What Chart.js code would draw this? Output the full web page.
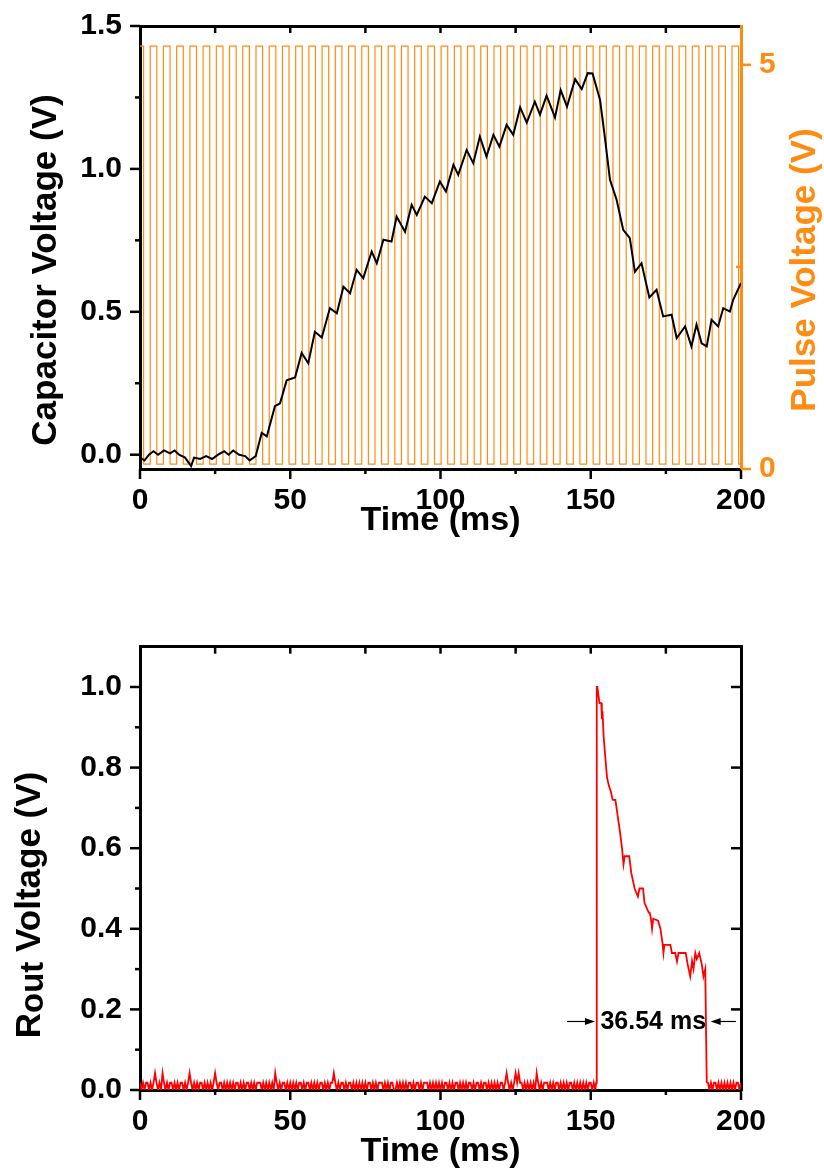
<!DOCTYPE html>
<html>
<head>
<meta charset="utf-8">
<script src="https://cdn.jsdelivr.net/npm/chart.js@4.4.1/dist/chart.umd.min.js"></script>
<style>
    html, body { margin: 0; padding: 0; background: #fff; }
    body { width: 824px; height: 1171px; position: relative; overflow: hidden; }
    canvas { position: absolute; left: 0; }
    #cap-plot { top: 0; }
    #rout-plot { top: 610px; }
</style>
</head>
<body>
<canvas id="cap-plot" width="824" height="560"></canvas>
<canvas id="rout-plot" width="824" height="561"></canvas>
<script>
// capacitor voltage (black trace)
const capTime = [0, 1.5, 3, 4.5, 6, 8, 10, 11.5, 13, 15, 17, 18, 20, 22, 24, 26, 28, 29.5, 31, 33, 35, 36.5, 38.5,
    40.5, 42.2, 44.9, 46.6, 48.8, 51.6, 53.8, 56.0, 58.2, 60.5, 63.2, 65.5, 67.7, 69.9, 72.1, 74.3, 77.1, 78.8,
    81.0, 83.7, 85.4, 88.2, 90.4, 92.1, 94.8, 97.1, 99.8, 101.8, 104.3, 105.9, 108.7, 110.9, 113.1, 115.3,
    117.6, 119.6, 122.0, 124.2, 126.5, 128.7, 131.4, 133.1, 135.3, 138.1, 140.0, 142.1, 144.8, 147.0, 149.0,
    150.6, 153.1, 154.7, 156.4, 158.6, 160.8, 163.0, 164.7, 166.9, 169.5, 171.9, 174.1, 176.9, 178.6, 181.4,
    183.5, 185.2, 186.9, 188.6, 190.2, 192.4, 194.1, 196.3, 197.4, 199.7, 200]
const capVolt = [-0.01, -0.02, 0.0, 0.012, 0.0, 0.015, 0.005, 0.015, 0.0, -0.01, -0.04, -0.01, -0.015, -0.005, -0.015, 0.0, 0.012, 0.0, 0.015, 0.0, -0.005, -0.02, -0.005,
    0.076, 0.064, 0.17, 0.18, 0.26, 0.27, 0.356, 0.32, 0.43, 0.41, 0.513, 0.495, 0.588, 0.565, 0.647, 0.618, 0.711, 0.67,
    0.752, 0.746, 0.833, 0.78, 0.874, 0.839, 0.903, 0.88, 0.956, 0.921, 1.014, 0.979, 1.066, 1.02, 1.113, 1.043,
    1.119, 1.078, 1.154, 1.119, 1.215, 1.162, 1.235, 1.19, 1.256, 1.18, 1.276, 1.218, 1.314, 1.279, 1.335,
    1.334, 1.241, 1.11, 0.962, 0.892, 0.787, 0.758, 0.64, 0.67, 0.55, 0.577, 0.484, 0.49, 0.408, 0.449,
    0.379, 0.455, 0.39, 0.379, 0.472, 0.449, 0.513, 0.501, 0.542, 0.594, 0.6]

// pulse train (orange trace): rising edges in ms, width of each high part
const pulseRise = [-1.0, 3.4, 7.8, 12.2, 16.6, 21.0, 25.4, 29.8, 34.2, 38.6, 43.0, 47.4, 51.8, 56.2, 60.6, 65.0,
    69.4, 73.8, 78.2, 82.6, 87.0, 91.4, 95.8, 100.2, 104.6, 109.0, 113.4, 117.8, 122.2, 126.6, 131.0, 135.4,
    139.8, 144.2, 148.6, 153.0, 157.4, 161.8, 166.2, 170.6, 175.0, 179.4, 183.8, 188.2, 192.6, 197.0]
const pulseWidth = 2.2
const pulseHigh = 5.23
const pulseLow = 0.06

// Rout voltage (red trace): quiet stretches as quantised noise levels, one char every 0.5 ms
const routSampleMs = 0.5
const routNoiseLevels = [0, 0.018, 0.042]
const routNoiseBefore =
    '1010110101' + '2101021010' + '1101010110' + '1012101010' + '1101010101' +
    '2101101010' + '1010110101' + '0110101011' + '1010101010' + '2101011010' +
    '1010101101' + '0110101010' + '1101010112' + '1010110101' + '1010101010' +
    '1011010101' + '1101010110' + '0101010101' + '1010110101' + '1101010101' +
    '0101101010' + '1101010101' + '1010110101' + '1010101010' + '1101210101' +
    '2121101010' + '1010210101' + '1101010110' + '1010101101' + '0101010101' + '1010'
const routNoiseAfterStart = 189.0
const routNoiseAfter = '1010110101' + '0101010101' + '101'
const routTime = [151.8, 152.0, 152.2, 152.9, 153.5, 153.7, 153.9, 154.3, 155.4, 156.0, 156.7, 157.3, 158.2,
    159.8, 160.4, 160.9, 161.3, 162.8, 163.5, 164.6, 165.7, 166.2, 167.4, 167.9, 169.3, 169.6, 170.0, 170.4,
    170.8, 172.4, 173.2, 173.9, 174.2, 174.5, 176.5, 177.0, 178.1, 178.7, 179.2, 181.6, 182.3, 183.1, 183.7,
    184.2, 184.8, 185.3, 186.1, 187.0, 187.5, 188.1, 188.6]
const routVolt = [0.018, 1.0, 1.0, 0.96, 0.96, 0.92, 0.94, 0.876, 0.776, 0.756, 0.74, 0.72, 0.72,
    0.637, 0.6, 0.56, 0.58, 0.58, 0.538, 0.5, 0.48, 0.5, 0.5, 0.464, 0.44, 0.44, 0.427, 0.4,
    0.425, 0.42, 0.4, 0.364, 0.34, 0.36, 0.36, 0.34, 0.34, 0.319, 0.34, 0.34, 0.31, 0.282, 0.32,
    0.3, 0.34, 0.325, 0.34, 0.31, 0.282, 0.3, 0.02]

// the "36.54 ms" width marker
const markLabel = '36.54 ms'
const markLabelX = 170.8
const markY = 0.17
const markLeftArrow = [142.1, 151.4]
const markRightArrow = [198.3, 189.9]

// axis ticks
const timeMajor = [0, 50, 100, 150, 200]
const timeMinor = [25, 75, 125, 175]
const capMajor = [0, 0.5, 1.0, 1.5]
const capMinor = [0.25, 0.75, 1.25]
const pulseMajor = [0, 5]
const pulseMinor = [2.5]
const routMajor = [0, 0.2, 0.4, 0.6, 0.8, 1.0]
const routMinor = [0.1, 0.3, 0.5, 0.7, 0.9]

const FONT = "'Liberation Sans', Arial, sans-serif"
const ORANGE = '#ff8c12'
const bold = (size, lh) => ({family: FONT, size: size, weight: 'bold', lineHeight: lh || 1.2})

// build point lists
const capPoints = capTime.map((t, i) => ({x: t, y: capVolt[i]}))

const pulsePoints = []
pulseRise.forEach(t0 => {
    const t1 = Math.min(t0 + pulseWidth, 200)
    pulsePoints.push({x: t0, y: pulseLow}, {x: t0, y: pulseHigh}, {x: t1, y: pulseHigh}, {x: t1, y: pulseLow})
})
pulsePoints.push({x: 200, y: pulseLow})

const routPoints = []
routNoiseBefore.split('').forEach((c, i) => routPoints.push({x: i * routSampleMs, y: routNoiseLevels[+c]}))
routTime.forEach((t, i) => routPoints.push({x: t, y: routVolt[i]}))
routNoiseAfter.split('').forEach((c, i) => routPoints.push({x: routNoiseAfterStart + i * routSampleMs, y: routNoiseLevels[+c]}))

// tick marks in/out of the frame, origin style
// (config kept in closures, chart's option proxy mangles nested arrays)
function frameTicks(marks) {
    return {
        id: 'frameTicks',
        afterDraw(chart) {
            const ctx = chart.ctx
            const {left, right, top, bottom} = chart.chartArea
            ctx.save()
            ctx.lineWidth = 2.5
            marks.forEach(m => {
                const scale = chart.scales[m.axis]
                ctx.strokeStyle = m.color || '#000'
                m.values.forEach(v => {
                    const p = scale.getPixelForValue(v)
                    ctx.beginPath()
                    if (m.side === 'bottom') { ctx.moveTo(p, bottom); ctx.lineTo(p, bottom + m.len) }
                    if (m.side === 'top') { ctx.moveTo(p, top); ctx.lineTo(p, top - m.len) }
                    if (m.side === 'left') { ctx.moveTo(left, p); ctx.lineTo(left - m.len, p) }
                    if (m.side === 'right') { ctx.moveTo(right, p); ctx.lineTo(right + m.len, p) }
                    ctx.stroke()
                })
            })
            ctx.restore()
        }
    }
}

// vertical axis titles, reading bottom to top on both sides
function sideTitles(items) {
    return {
        id: 'sideTitles',
        afterDraw(chart) {
            const ctx = chart.ctx
            items.forEach(item => {
                ctx.save()
                ctx.translate(item.x, item.y)
                ctx.rotate(-Math.PI / 2)
                ctx.fillStyle = item.color
                ctx.textBaseline = 'alphabetic'
                ctx.textAlign = 'left'
                let total = 0
                const widths = item.runs.map(r => {
                    ctx.font = `bold ${r.size}px ${FONT}`
                    const w = ctx.measureText(r.text).width
                    total += w
                    return w
                })
                let cx = -total / 2
                item.runs.forEach((r, i) => {
                    ctx.font = `bold ${r.size}px ${FONT}`
                    ctx.fillText(r.text, cx, r.shift || 0)
                    cx += widths[i]
                })
                ctx.restore()
            })
        }
    }
}

function arrow(ctx, x0, x1, y) {
    const dir = Math.sign(x1 - x0)
    ctx.beginPath()
    ctx.moveTo(x0, y)
    ctx.lineTo(x1 - dir * 8, y)
    ctx.stroke()
    ctx.beginPath()
    ctx.moveTo(x1, y)
    ctx.lineTo(x1 - dir * 10, y - 3.5)
    ctx.lineTo(x1 - dir * 10, y + 3.5)
    ctx.closePath()
    ctx.fill()
}

function widthMarker(mark) {
    return {
        id: 'widthMarker',
        afterDatasetsDraw(chart) {
            const ctx = chart.ctx
            const xs = chart.scales.x
            const ys = chart.scales.y
            const y = ys.getPixelForValue(mark.y)
            ctx.save()
            ctx.strokeStyle = '#000'
            ctx.fillStyle = '#000'
            ctx.lineWidth = 1.2
            arrow(ctx, xs.getPixelForValue(mark.left[0]), xs.getPixelForValue(mark.left[1]), y)
            arrow(ctx, xs.getPixelForValue(mark.right[0]), xs.getPixelForValue(mark.right[1]), y)
            ctx.font = `bold 25px ${FONT}`
            ctx.textAlign = 'center'
            ctx.textBaseline = 'middle'
            ctx.fillText(mark.label, xs.getPixelForValue(mark.labelX), y + 1)
            ctx.restore()
        }
    }
}

function timeAxis(height, titlePad) {
    return {
        type: 'linear', position: 'bottom', min: 0, max: 200,
        afterFit: (s) => { s.height = height },
        grid: {display: false, drawTicks: false},
        border: {display: true, color: '#000', width: 3},
        ticks: {stepSize: 50, font: bold(30), color: '#000', padding: 14, maxRotation: 0, autoSkip: false},
        title: {display: true, text: 'Time (ms)', font: bold(34, 1), color: '#000', padding: {top: 0, bottom: titlePad}}
    }
}

function topMirror(height) {
    return {
        type: 'linear', position: 'top', min: 0, max: 200, display: true,
        afterFit: (s) => { s.height = height },
        grid: {display: false, drawTicks: false},
        border: {display: true, color: '#000', width: 3},
        ticks: {display: false}
    }
}

// vertical axes: fixed width, and no extra room asked for the end labels
function valueAxis(position, width, min, max, stepSize, color, showLabels) {
    return {
        position: position, min: min, max: max, display: true,
        afterFit: (s) => { s.width = width; s.paddingTop = 0; s.paddingBottom = 0 },
        grid: {display: false, drawTicks: false},
        border: {display: true, color: color, width: 3},
        ticks: {display: showLabels, stepSize: stepSize, includeBounds: false, font: bold(30), color: color, padding: 18,
            callback: (v) => stepSize < 1 ? v.toFixed(1) : String(v)}
    }
}

// Top: capacitor voltage with the pulse train on a second axis
new Chart(document.getElementById('cap-plot'), {
    type: 'line',
    data: {
        datasets: [
            {data: capPoints, borderColor: '#000', borderWidth: 2, pointRadius: 0, yAxisID: 'y', order: 0},
            {data: pulsePoints, borderColor: ORANGE, borderWidth: 1.2, pointRadius: 0, yAxisID: 'y2', order: 1}
        ]
    },
    options: {
        responsive: false,
        animation: false,
        events: [],
        layout: {padding: 0},
        plugins: {legend: {display: false}, tooltip: {enabled: false}},
        scales: {
            x: timeAxis(91, 22),
            xTop: topMirror(26),
            y: valueAxis('left', 140, -0.05, 1.5, 0.5, '#000', true),
            y2: valueAxis('right', 83, 0, 5.48, 5, ORANGE, true)
        }
    },
    plugins: [
        frameTicks([
            {axis: 'x', side: 'bottom', values: timeMajor, len: 10},
            {axis: 'x', side: 'bottom', values: timeMinor, len: 5},
            {axis: 'x', side: 'top', values: timeMajor.slice(1, -1).concat(timeMinor), len: -7},
            {axis: 'y', side: 'left', values: capMajor, len: 10},
            {axis: 'y', side: 'left', values: capMinor, len: 5},
            {axis: 'y2', side: 'right', values: pulseMajor, len: 10, color: ORANGE},
            {axis: 'y2', side: 'right', values: pulseMinor, len: -5, color: ORANGE}
        ]),
        sideTitles([
            {x: 56, y: 270, color: '#000', runs: [{text: 'Capacitor Voltage (V)', size: 35}]},
            {x: 815, y: 270, color: ORANGE, runs: [{text: 'Pulse Voltage (V)', size: 35}]}
        ])
    ]
})

// Bottom: Rout voltage
new Chart(document.getElementById('rout-plot'), {
    type: 'line',
    data: {
        datasets: [
            {data: routPoints, borderColor: '#ff0000', borderWidth: 1.8, pointRadius: 0, yAxisID: 'y'}
        ]
    },
    options: {
        responsive: false,
        animation: false,
        events: [],
        layout: {padding: 0},
        plugins: {legend: {display: false}, tooltip: {enabled: false}},
        scales: {
            x: timeAxis(81, 2),
            xTop: topMirror(36.7),
            y: valueAxis('left', 140, 0, 1.1, 0.2, '#000', true),
            yRight: valueAxis('right', 83, 0, 1.1, 0.2, '#000', false)
        }
    },
    plugins: [
        frameTicks([
            {axis: 'x', side: 'bottom', values: timeMajor, len: 10},
            {axis: 'x', side: 'bottom', values: timeMinor, len: 5},
            {axis: 'x', side: 'top', values: timeMajor.slice(1, -1).concat(timeMinor), len: -7},
            {axis: 'y', side: 'left', values: routMajor, len: 10},
            {axis: 'y', side: 'left', values: routMinor, len: 5},
            {axis: 'y', side: 'right', values: routMajor.slice(1), len: -10}
        ]),
        sideTitles([
            {x: 40, y: 295, color: '#000', runs: [
                {text: 'R', size: 35},
                {text: 'out', size: 33, shift: 3},
                {text: ' Voltage (V)', size: 35}
            ]}
        ]),
        widthMarker({label: markLabel, labelX: markLabelX, y: markY, left: markLeftArrow, right: markRightArrow})
    ]
})
</script>
</body>
</html>
